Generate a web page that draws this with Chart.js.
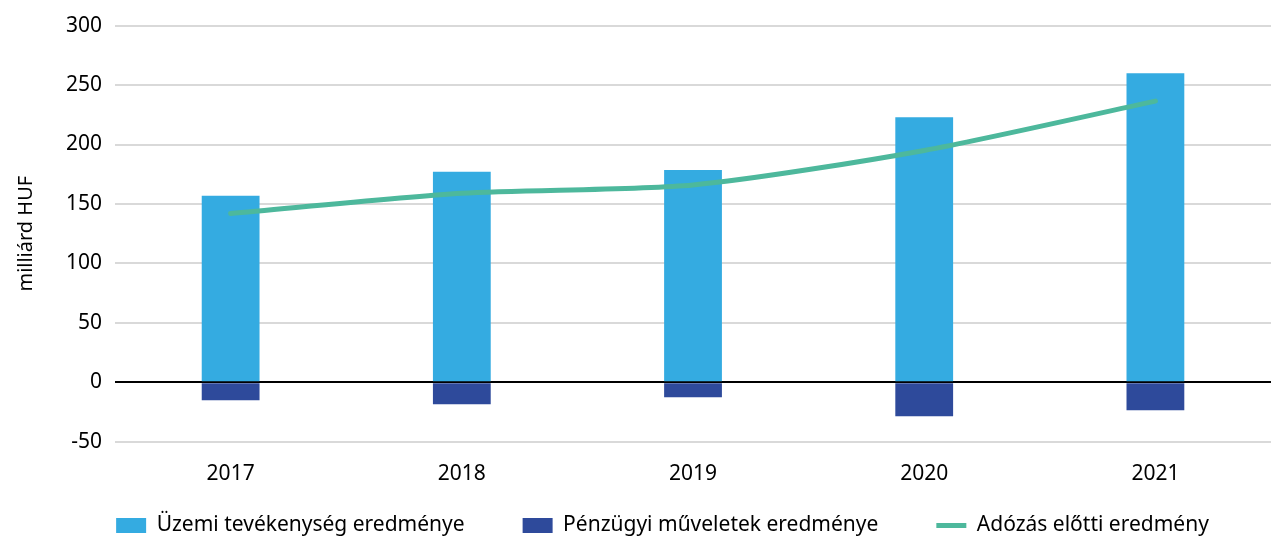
<!DOCTYPE html>
<html>
<head>
<meta charset="utf-8">
<script src="https://cdn.jsdelivr.net/npm/chart.js@4/dist/chart.umd.min.js"></script>
<style>
html,body{margin:0;padding:0;background:#fff;}
#wrap{width:1271px;height:536px;}
</style>
</head>
<body>
<div id="wrap"><canvas id="chart"></canvas></div>
<script>
const years = ["2017","2018","2019","2020","2021"];
const uzemi = [157, 177, 178.5, 223, 260];
const penzugyi = [-15, -18.5, -12.5, -28.5, -23.5];
const adozasElotti = [142, 159, 166, 195, 236.5];

const yTicks = [-50, 0, 50, 100, 150, 200, 250, 300];

const font = "'Noto Sans', sans-serif";

// legend keeps wide spacing between items, but takes less height
const legendCut = 52;
const legendMove = {x:25, y:-42};
const tightLegend = {
id:"tightLegend",
beforeInit(chart){
const lg = chart.legend;
const fit = lg.fit.bind(lg);
lg.fit = function(){ fit(); this.height -= legendCut; };
const draw = lg._draw.bind(lg);
lg._draw = function(){
this.ctx.save();
this.ctx.translate(legendMove.x, legendMove.y);
draw();
this.ctx.restore();
};
}
};

new Chart(
document.getElementById("chart"),
{
type:"bar",
data:{
labels:years,
datasets:[
{
label:"Üzemi tevékenység eredménye",
data:uzemi,
backgroundColor:"#34abe1",
stack:"bars",
order:1,
pointStyle:"rect",
categoryPercentage:0.5,
barPercentage:0.5
},
{
label:"Pénzügyi műveletek eredménye",
data:penzugyi,
backgroundColor:"#2e4a9b",
stack:"bars",
order:1,
pointStyle:"rect",
categoryPercentage:0.5,
barPercentage:0.5
},
{
type:"line",
label:"Adózás előtti eredmény",
data:adozasElotti,
borderColor:"#4db89c",
backgroundColor:"#4db89c",
borderWidth:5,
borderCapStyle:"round",
tension:0.25,
pointRadius:0,
pointStyle:"line",
stack:"line",
order:0
}
]
},
plugins:[tightLegend],
options:{
responsive:true,
maintainAspectRatio:false,
animation:false,
layout:{padding:{top:5,right:0,bottom:0,left:4}},
plugins:{
tooltip:{enabled:false},
legend:{
position:"bottom",
labels:{
sort:(a,b)=>a.datasetIndex-b.datasetIndex,
usePointStyle:true,
pointStyleWidth:30,
boxHeight:15,
padding:58,
color:"#000",
font:{family:font,size:21}
}
}
},
scales:{
x:{
stacked:true,
grid:{display:false},
border:{display:false},
ticks:{color:"#000",font:{family:font,size:21},padding:12}
},
y:{
stacked:true,
min:-50,
max:300,
afterBuildTicks:(axis)=>{
axis.ticks = yTicks.map(v=>({value:v}));
},
grid:{
color:(c)=>c.tick && c.tick.value===0 ? "#000" : "#d9d9d9",
lineWidth:2,
drawTicks:false
},
border:{display:false},
ticks:{color:"#000",font:{family:font,size:21},padding:13},
title:{
display:true,
text:"milliárd HUF",
color:"#000",
font:{family:font,size:20},
padding:{top:10,bottom:15}
}
}
}
}
}
);
</script>
</body>
</html>
